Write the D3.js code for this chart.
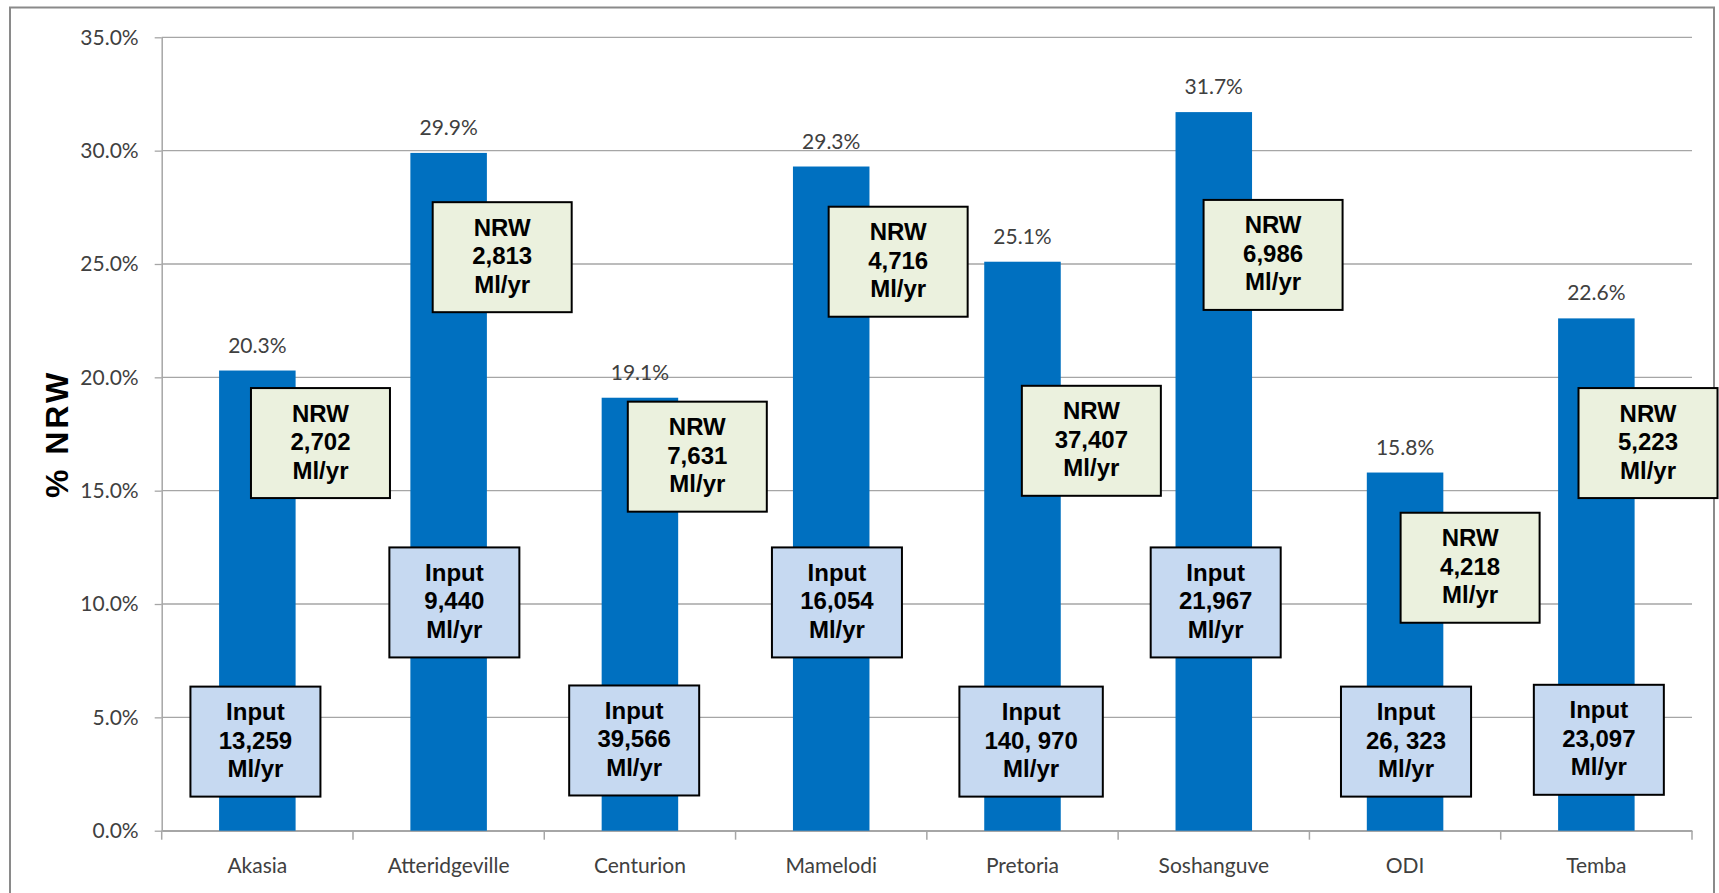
<!DOCTYPE html>
<html lang="en">
<head>
<meta charset="UTF-8">
<title>% NRW by supply area</title>
<script src="https://d3js.org/d3.v7.min.js"></script>
<style>
    body { margin: 0; background: #ffffff; }
    .tick text, .value-label, .cat-label { font-family: Lato, "Open Sans", sans-serif; fill: #404040; }
    .callout text { font-family: "Liberation Sans", Arial, sans-serif; font-weight: bold; fill: #000; }
</style>
</head>
<body>
<script>
// data
var categories = ["Akasia", "Atteridgeville", "Centurion", "Mamelodi", "Pretoria", "Soshanguve", "ODI", "Temba"];
var nrwPercent = [20.3, 29.9, 19.1, 29.3, 25.1, 31.7, 15.8, 22.6];
var nrwVolume = ["2,702", "2,813", "7,631", "4,716", "37,407", "6,986", "4,218", "5,223"];
var inputVolume = ["13,259", "9,440", "39,566", "16,054", "140, 970", "21,967", "26, 323", "23,097"];
var yTicks = [0, 5, 10, 15, 20, 25, 30, 35];

// where the callout boxes sit: centre level in % units, sideways shift as part of a band
var nrwBoxLevel = [17.1, 25.3, 16.5, 25.1, 17.2, 25.4, 11.6, 17.1];
var nrwBoxShift = [0.33, 0.28, 0.30, 0.35, 0.36, 0.31, 0.34, 0.27];
var inputBoxLevel = [3.93, 10.07, 3.98, 10.07, 3.93, 10.07, 3.93, 4.01];
var inputBoxShift = [-0.01, 0.03, -0.03, 0.03, 0.045, 0.01, 0.005, 0.013];

var width = 1719, height = 893;
var plotLeft = 161.7, plotRight = 1692, plotTop = 37.3, plotBottom = 830.7;

var svg = d3.select("body").append("svg")
    .attr("width", width)
    .attr("height", height);

// outer chart border (bottom edge runs off the picture)
svg.append("rect")
    .attr("x", 10).attr("y", 7.5)
    .attr("width", 1704).attr("height", 900)
    .attr("fill", "none")
    .attr("stroke", "#8a8a8a")
    .attr("stroke-width", 2);

var x = d3.scaleBand().domain(categories).range([plotLeft, plotRight]).padding(0);
var y = d3.scaleLinear().domain([0, 35]).range([plotBottom, plotTop]);
var barW = x.bandwidth() * 0.4;

// gridlines
svg.append("g").selectAll("line")
    .data(yTicks)
    .enter().append("line")
    .attr("x1", plotLeft).attr("x2", plotRight)
    .attr("y1", function(d) { return y(d); })
    .attr("y2", function(d) { return y(d); })
    .attr("stroke", "#a6a6a6")
    .attr("stroke-width", 1.3);

// y axis
var yAxis = svg.append("g")
    .attr("transform", "translate(" + plotLeft + ",0)")
    .call(d3.axisLeft(y).tickValues(yTicks).tickSize(7).tickSizeOuter(0).tickPadding(16)
        .tickFormat(function(d) { return d.toFixed(1) + "%"; }));
yAxis.select(".domain").attr("stroke", "#a6a6a6").attr("stroke-width", 1.5);
yAxis.selectAll(".tick line").attr("stroke", "#a6a6a6").attr("stroke-width", 1.3);
yAxis.selectAll(".tick text").attr("font-size", 21).attr("font-family", null);

// x axis: boundary ticks and category names
var xAxis = svg.append("g")
    .attr("transform", "translate(0," + plotBottom + ")")
    .call(d3.axisBottom(x).tickSize(0).tickSizeOuter(0));
xAxis.select(".domain").attr("stroke", "#a6a6a6").attr("stroke-width", 1.5);
xAxis.selectAll(".tick text")
    .attr("class", "cat-label")
    .attr("font-size", 21)
    .attr("font-family", null)
    .attr("y", 42).attr("dy", 0);
xAxis.selectAll(".bound")
    .data(d3.range(categories.length + 1))
    .enter().append("line")
    .attr("class", "bound")
    .attr("x1", function(i) { return plotLeft + i * x.bandwidth(); })
    .attr("x2", function(i) { return plotLeft + i * x.bandwidth(); })
    .attr("y1", 0).attr("y2", 9)
    .attr("stroke", "#a6a6a6")
    .attr("stroke-width", 1.5);

// bars
svg.append("g").selectAll("rect")
    .data(categories)
    .enter().append("rect")
    .attr("x", function(d) { return x(d) + (x.bandwidth() - barW) / 2; })
    .attr("y", function(d, i) { return y(nrwPercent[i]); })
    .attr("width", barW)
    .attr("height", function(d, i) { return plotBottom - y(nrwPercent[i]); })
    .attr("fill", "#0070c0");

// value labels above the bars
svg.append("g").selectAll("text")
    .data(categories)
    .enter().append("text")
    .attr("class", "value-label")
    .attr("x", function(d) { return x(d) + x.bandwidth() / 2; })
    .attr("y", function(d, i) { return y(nrwPercent[i]) - 18; })
    .attr("text-anchor", "middle")
    .attr("font-size", 21)
    .text(function(d, i) { return nrwPercent[i].toFixed(1) + "%"; });

// callout boxes
function callout(g, lines, cx, cy, minW, fill) {
    var box = g.append("g").attr("class", "callout");
    var rect = box.append("rect");
    var t = box.append("text")
        .attr("text-anchor", "middle")
        .attr("font-size", 24);
    lines.forEach(function(s, k) {
        t.append("tspan")
            .attr("x", cx)
            .attr("y", cy + 7 + (k - 1) * 28.5)
            .text(s);
    });
    var w = Math.max(minW, t.node().getBBox().width + 50);
    var h = 110;
    rect.attr("x", cx - w / 2).attr("y", cy - h / 2)
        .attr("width", w).attr("height", h)
        .attr("fill", fill)
        .attr("stroke", "#000")
        .attr("stroke-width", 2);
}

var boxes = svg.append("g");
categories.forEach(function(c, i) {
    var mid = x(c) + x.bandwidth() / 2;
    callout(boxes, ["NRW", nrwVolume[i], "Ml/yr"],
        mid + nrwBoxShift[i] * x.bandwidth(), y(nrwBoxLevel[i]), 139, "#ebf1de");
    callout(boxes, ["Input", inputVolume[i], "Ml/yr"],
        mid + inputBoxShift[i] * x.bandwidth(), y(inputBoxLevel[i]), 130, "#c6d9f1");
});

// y axis title
svg.append("text")
    .attr("transform", "translate(68,434) rotate(-90)")
    .attr("text-anchor", "middle")
    .attr("font-family", "'Liberation Sans', Arial, sans-serif")
    .attr("font-weight", "bold")
    .attr("font-size", 32)
    .attr("letter-spacing", 3)
    .text("% NRW");
</script>
</body>
</html>
